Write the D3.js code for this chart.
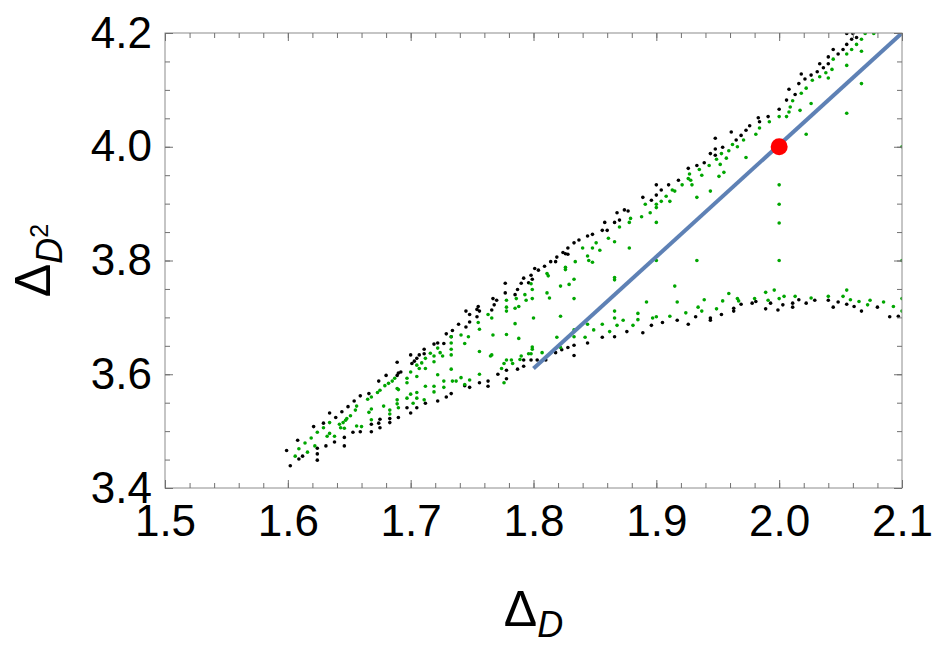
<!DOCTYPE html>
<meta charset="utf-8">
<script src="https://d3js.org/d3.v7.min.js"></script>
<body style="margin:0;background:#fff">
<svg width="941" height="648"></svg>
<style>
text { font-family: 'Liberation Sans', Arial, sans-serif; }
</style>
<script>
// scatter points: [Δ_D, Δ_D²]
const blackPts = [
  [1.599,3.466],[1.602,3.439],[1.608,3.484],[1.609,3.451],[1.612,3.456],[1.621,3.508],[1.624,3.470],[1.624,3.460],
  [1.624,3.449],[1.629,3.514],[1.631,3.474],[1.634,3.532],[1.639,3.524],[1.638,3.481],[1.644,3.534],[1.646,3.489],
  [1.646,3.474],[1.649,3.543],[1.654,3.553],[1.653,3.498],[1.659,3.562],[1.659,3.499],[1.666,3.566],[1.668,3.512],
  [1.668,3.499],[1.674,3.588],[1.674,3.514],[1.675,3.521],[1.675,3.506],[1.680,3.598],[1.683,3.522],[1.683,3.515],
  [1.689,3.621],[1.689,3.598],[1.690,3.602],[1.690,3.524],[1.692,3.604],[1.697,3.541],[1.700,3.634],[1.700,3.532],
  [1.701,3.619],[1.703,3.623],[1.705,3.541],[1.705,3.628],[1.707,3.634],[1.711,3.644],[1.711,3.636],[1.712,3.549],
  [1.719,3.653],[1.722,3.655],[1.722,3.553],[1.727,3.654],[1.729,3.671],[1.729,3.560],[1.733,3.666],[1.734,3.677],
  [1.733,3.566],[1.739,3.688],[1.744,3.580],[1.745,3.711],[1.745,3.683],[1.748,3.705],[1.748,3.692],[1.748,3.577],
  [1.754,3.701],[1.754,3.714],[1.755,3.719],[1.756,3.585],[1.763,3.588],[1.763,3.579],[1.766,3.713],[1.770,3.730],
  [1.771,3.600],[1.778,3.607],[1.778,3.592],[1.787,3.609],[1.756,3.711],[1.767,3.733],[1.768,3.722],[1.777,3.743],
  [1.777,3.760],[1.785,3.740],[1.787,3.749],[1.790,3.760],[1.792,3.769],[1.796,3.761],[1.798,3.774],[1.799,3.767],
  [1.801,3.786],[1.804,3.783],[1.809,3.790],[1.814,3.798],[1.818,3.798],[1.819,3.806],[1.824,3.814],[1.826,3.812],
  [1.828,3.811],[1.828,3.822],[1.833,3.831],[1.837,3.836],[1.844,3.843],[1.848,3.846],[1.856,3.853],[1.858,3.867],
  [1.860,3.853],[1.866,3.867],[1.868,3.884],[1.870,3.871],[1.874,3.889],[1.877,3.887],[1.889,3.911],[1.896,3.906],
  [1.900,3.915],[1.900,3.933],[1.904,3.924],[1.910,3.933],[1.918,3.941],[1.926,3.962],[1.933,3.967],[1.939,3.972],
  [1.944,3.988],[1.948,4.015],[1.948,3.996],[1.948,3.985],[1.954,3.999],[1.961,4.026],[1.965,4.012],[1.969,4.020],
  [1.973,4.029],[1.976,4.037],[1.983,4.051],[1.984,4.044],[1.991,4.053],[2.000,4.066],[2.006,4.082],[2.008,4.101],
  [2.013,4.092],[2.016,4.111],[2.018,4.128],[2.021,4.119],[2.026,4.126],[2.031,4.132],[2.033,4.146],[2.036,4.139],
  [2.040,4.146],[2.040,4.158],[2.044,4.171],[2.048,4.163],[2.052,4.171],[2.055,4.180],[2.055,4.199],[2.059,4.189],
  [2.060,4.199],[2.063,4.192],
  [1.792,3.614],[1.792,3.625],[1.798,3.625],[1.803,3.625],[1.810,3.625],[1.818,3.638],[1.823,3.643],[1.828,3.647],
  [1.833,3.651],[1.833,3.633],[1.844,3.655],[1.856,3.665],[1.866,3.666],[1.876,3.675],[1.889,3.673],[1.896,3.686],
  [1.905,3.691],[1.917,3.695],[1.926,3.688],[1.932,3.701],[1.944,3.699],[1.944,3.695],[1.953,3.705],[1.963,3.716],
  [1.963,3.711],[1.969,3.723],[1.978,3.725],[1.981,3.728],[1.989,3.715],[1.993,3.725],[1.999,3.713],[2.003,3.722],
  [2.011,3.725],[2.011,3.718],[2.016,3.731],[2.022,3.725],[2.029,3.730],[2.040,3.730],[2.044,3.718],[2.048,3.727],
  [2.055,3.723],[2.061,3.719],[2.067,3.711],[2.080,3.718],[2.090,3.701],[2.097,3.702]
];

const greenPts = [
  [1.606,3.456],[1.609,3.469],[1.614,3.479],[1.616,3.463],[1.619,3.488],[1.622,3.474],[1.624,3.498],[1.629,3.506],
  [1.632,3.491],[1.634,3.496],[1.634,3.515],[1.638,3.491],[1.642,3.512],[1.643,3.506],[1.645,3.515],[1.647,3.519],
  [1.648,3.522],[1.651,3.527],[1.646,3.505],[1.655,3.537],[1.656,3.544],[1.656,3.509],[1.660,3.508],[1.665,3.556],
  [1.668,3.560],[1.666,3.533],[1.668,3.539],[1.668,3.520],[1.673,3.568],[1.675,3.572],[1.678,3.544],[1.679,3.580],
  [1.682,3.584],[1.683,3.537],[1.683,3.530],[1.685,3.588],[1.687,3.593],[1.689,3.575],[1.690,3.573],[1.689,3.555],
  [1.689,3.548],[1.690,3.541],[1.697,3.593],[1.697,3.585],[1.697,3.558],[1.700,3.604],[1.700,3.565],[1.702,3.549],
  [1.705,3.596],[1.705,3.616],[1.705,3.558],[1.705,3.568],[1.707,3.610],[1.709,3.620],[1.711,3.555],[1.712,3.579],
  [1.712,3.610],[1.712,3.628],[1.716,3.637],[1.719,3.632],[1.719,3.622],[1.719,3.579],[1.719,3.569],[1.722,3.646],
  [1.722,3.599],[1.724,3.638],[1.726,3.632],[1.727,3.588],[1.727,3.577],[1.733,3.666],[1.733,3.655],[1.733,3.644],
  [1.733,3.634],[1.733,3.609],[1.734,3.588],[1.737,3.588],[1.741,3.669],[1.741,3.594],[1.744,3.654],[1.744,3.582],
  [1.747,3.666],[1.748,3.590],[1.755,3.691],[1.756,3.679],[1.756,3.640],[1.756,3.600],[1.763,3.705],[1.765,3.632],
  [1.766,3.699],[1.766,3.634],[1.767,3.669],[1.776,3.619],[1.776,3.585],[1.778,3.718],[1.778,3.711],[1.778,3.670],
  [1.778,3.730],[1.782,3.625],[1.785,3.689],[1.788,3.663],[1.789,3.626],[1.786,3.733],[1.785,3.716],[1.788,3.719],
  [1.793,3.740],[1.794,3.730],[1.798,3.759],[1.799,3.749],[1.799,3.733],[1.800,3.699],[1.811,3.777],[1.812,3.773],
  [1.811,3.743],[1.813,3.734],[1.822,3.755],[1.826,3.788],[1.826,3.784],[1.829,3.758],[1.833,3.767],[1.833,3.733],
  [1.834,3.798],[1.840,3.822],[1.844,3.808],[1.845,3.800],[1.848,3.822],[1.848,3.797],[1.851,3.831],[1.854,3.818],
  [1.861,3.839],[1.866,3.833],[1.866,3.770],[1.866,3.766],[1.870,3.859],[1.878,3.822],[1.878,3.867],[1.879,3.874],
  [1.888,3.877],[1.891,3.899],[1.895,3.884],[1.900,3.899],[1.900,3.893],[1.900,3.867],[1.900,3.800],[1.904,3.904],
  [1.908,3.913],[1.911,3.904],[1.913,3.924],[1.915,3.922],[1.921,3.933],[1.928,3.941],[1.929,3.933],[1.933,3.911],
  [1.933,3.800],[1.944,3.922],[1.926,3.944],[1.927,3.952],[1.935,3.960],[1.937,3.950],[1.951,3.948],
  [1.778,3.625],[1.774,3.610],[1.783,3.619],[1.790,3.632],[1.796,3.636],[1.798,3.636],[1.799,3.648],[1.799,3.644],
  [1.807,3.638],[1.819,3.665],[1.822,3.702],[1.822,3.647],[1.833,3.678],[1.833,3.666],[1.842,3.665],[1.844,3.688],
  [1.849,3.678],[1.856,3.688],[1.862,3.675],[1.866,3.711],[1.866,3.699],[1.868,3.686],[1.873,3.695],[1.881,3.686],
  [1.885,3.696],[1.885,3.707],[1.892,3.727],[1.897,3.699],[1.900,3.701],[1.911,3.702],[1.915,3.755],[1.917,3.727],
  [1.924,3.708],[1.934,3.718],[1.937,3.711],[1.939,3.731],[1.949,3.715],[1.954,3.729],[1.959,3.742],[1.966,3.733],
  [1.967,3.729],[1.980,3.733],[1.989,3.744],[1.991,3.730],[1.996,3.748],[2.000,3.733],[2.004,3.737],[2.013,3.737],
  [2.026,3.734],[2.040,3.737],[2.052,3.737],[2.055,3.748],[2.058,3.731],[2.065,3.728],[2.072,3.722],[2.074,3.730],
  [2.085,3.727],[2.093,3.719],[2.100,3.733],[2.100,3.711],[2.100,3.800],
  [2.000,3.933],[2.000,3.899],[2.000,3.866],[2.000,3.800],
  [1.943,3.967],[1.949,3.978],[1.952,3.969],[1.953,3.988],[1.955,3.955],[1.957,3.980],[1.959,3.993],[1.962,4.004],
  [1.966,4.000],[1.971,4.012],[1.973,3.981],[1.981,4.022],[1.984,4.033],[1.992,4.044],[2.000,4.053],[2.006,4.053],
  [2.008,4.061],[2.009,4.070],[2.011,4.081],[2.017,4.064],[2.018,4.094],[2.022,4.103],[2.022,4.022],[2.026,4.076],
  [2.027,4.117],[2.033,4.123],[2.038,4.130],[2.040,4.121],[2.043,4.136],[2.044,4.154],[2.055,4.143],[2.055,4.163],
  [2.055,4.059],[2.059,4.171],[2.063,4.180],[2.067,4.189],[2.067,4.168],[2.067,4.111],[2.070,4.199],[2.077,4.199],
  [2.100,4.000]
];

const linePts = [[1.8,3.61],[2.1,4.2]];
const redPt = [2.0,4.0];

const xTicks = [1.5,1.6,1.7,1.8,1.9,2.0,2.1];
const yTicks = [3.4,3.6,3.8,4.0,4.2];

const m = {left:165, right:902, top:33, bottom:488};

const x = d3.scaleLinear().domain([1.5,2.1]).range([m.left, m.right]);
const y = d3.scaleLinear().domain([3.4,4.2]).range([m.bottom, m.top]);

const svg = d3.select('svg');

svg.append('clipPath').attr('id','clip')
  .append('rect').attr('x',m.left).attr('y',m.top)
  .attr('width',m.right-m.left).attr('height',m.bottom-m.top);

const plot = svg.append('g').attr('clip-path','url(#clip)');

plot.selectAll('circle.blk').data(blackPts).enter().append('circle')
  .attr('class','blk')
  .attr('cx', d => x(d[0])).attr('cy', d => y(d[1]))
  .attr('r', 1.8).attr('fill','#000');

plot.selectAll('circle.grn').data(greenPts).enter().append('circle')
  .attr('class','grn')
  .attr('cx', d => x(d[0])).attr('cy', d => y(d[1]))
  .attr('r', 1.8).attr('fill','#00a600');

plot.append('path').datum(linePts)
  .attr('d', d3.line().x(d => x(d[0])).y(d => y(d[1])))
  .attr('fill','none').attr('stroke','#5e81b5').attr('stroke-width',4);

plot.append('circle')
  .attr('cx', x(redPt[0])).attr('cy', y(redPt[1]))
  .attr('r', 8.5).attr('fill','#ff0000');

// frame
svg.append('rect')
  .attr('x',m.left).attr('y',m.top)
  .attr('width',m.right-m.left).attr('height',m.bottom-m.top)
  .attr('fill','none').attr('stroke','#8c8c8c').attr('stroke-width',1);

const xMinor = d3.range(1.5, 2.1001, 0.02);
const yMinor = d3.range(3.4, 4.2001, 0.05);

function styleAxis(g){
  g.select('.domain').remove();
  g.selectAll('.tick line').attr('stroke','#707070');
  g.selectAll('.tick text').attr('fill','#000')
    .style('font-family',"'Liberation Sans', Arial, sans-serif")
    .style('font-size','44px');
}

// minor ticks, all four sides
svg.append('g').attr('transform',`translate(0,${m.bottom})`)
  .call(d3.axisBottom(x).tickValues(xMinor).tickSize(-5).tickFormat('')).call(styleAxis);
svg.append('g').attr('transform',`translate(0,${m.top})`)
  .call(d3.axisTop(x).tickValues(xMinor).tickSize(-5).tickFormat('')).call(styleAxis);
svg.append('g').attr('transform',`translate(${m.left},0)`)
  .call(d3.axisLeft(y).tickValues(yMinor).tickSize(-5).tickFormat('')).call(styleAxis);
svg.append('g').attr('transform',`translate(${m.right},0)`)
  .call(d3.axisRight(y).tickValues(yMinor).tickSize(-5).tickFormat('')).call(styleAxis);

// major ticks with labels
svg.append('g').attr('transform',`translate(0,${m.bottom})`)
  .call(d3.axisBottom(x).tickValues(xTicks).tickSize(-8).tickPadding(17).tickFormat(d3.format('.1f'))).call(styleAxis);
svg.append('g').attr('transform',`translate(0,${m.top})`)
  .call(d3.axisTop(x).tickValues(xTicks).tickSize(-8).tickFormat('')).call(styleAxis);
svg.append('g').attr('transform',`translate(${m.left},0)`)
  .call(d3.axisLeft(y).tickValues(yTicks).tickSize(-8).tickPadding(13).tickFormat(d3.format('.1f'))).call(styleAxis);
svg.append('g').attr('transform',`translate(${m.right},0)`)
  .call(d3.axisRight(y).tickValues(yTicks).tickSize(-8).tickFormat('')).call(styleAxis);

// axis titles
const xt = svg.append('text')
  .attr('x', (m.left+m.right)/2).attr('y', 626)
  .attr('text-anchor','middle').attr('fill','#000');
xt.append('tspan').style('font-size','50px').text('Δ');
xt.append('tspan').style('font-size','36px').style('font-style','italic').attr('dy',11).text('D');

const yt = svg.append('text')
  .attr('transform',`translate(50,${(m.top+m.bottom)/2}) rotate(-90)`)
  .attr('text-anchor','middle').attr('fill','#000');
yt.append('tspan').style('font-size','50px').text('Δ');
yt.append('tspan').style('font-size','36px').style('font-style','italic').attr('dy',12).text('D');
yt.append('tspan').style('font-size','25px').attr('dy',-14).text('2');
</script>
</body>
